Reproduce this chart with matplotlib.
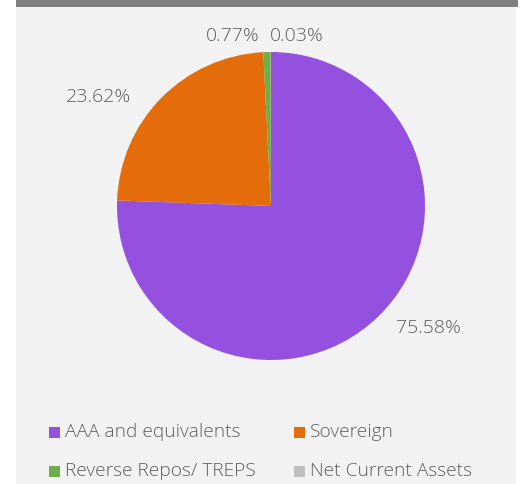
import matplotlib
matplotlib.use("Agg")
import matplotlib.pyplot as plt
from matplotlib.patches import Rectangle

categories = ["AAA and equivalents", "Sovereign", "Reverse Repos/ TREPS", "Net Current Assets"]
values = [75.58, 23.62, 0.77, 0.03]
colors = ["#9450DF", "#E46C0A", "#6DAE4A", "#BFBFBF"]
label_texts = ["75.58%", "23.62%", "0.77%", "0.03%"]
# label positions (axes data units, radius = 1)
label_pos = [(1.025, -0.79), (-1.12, 0.71), (-0.25, 1.105), (0.17, 1.105)]

W, H = 522, 484
fig = plt.figure(figsize=(W / 100, H / 100), dpi=100)
fig.patch.set_facecolor("white")

# panel background
fig.patches.append(Rectangle((16 / W, 0), (516 - 16) / W, 1, transform=fig.transFigure,
                             facecolor="#F2F2F2", edgecolor="none", zorder=-3))
# top dark bar
fig.patches.append(Rectangle((16 / W, 1 - 7 / H), (518 - 16) / W, 7 / H, transform=fig.transFigure,
                             facecolor="#808080", edgecolor="none", zorder=-2))

font = dict(family=["Open Sans", "DejaVu Sans"], weight="light")
txt_color = "#5E5E5E"

cx, cy, r = 271, 206, 154
ax = fig.add_axes([(cx - r) / W, 1 - (cy + r) / H, 2 * r / W, 2 * r / H])
ax.set_facecolor("none")
wedges, _ = ax.pie(values, colors=colors, startangle=90, counterclock=False,
                   radius=1, wedgeprops=dict(linewidth=0))
ax.set_xlim(-1, 1)
ax.set_ylim(-1, 1)
ax.set_aspect("equal")
ax.axis("off")

for t, (x, y) in zip(label_texts, label_pos):
    ax.text(x, y, t, ha="center", va="center", fontsize=14, color=txt_color,
            clip_on=False, **font)

# legend
col_x = [49, 294]
row_y = [432, 471]
sq = 11
for i, (cat, c) in enumerate(zip(categories, colors)):
    x = col_x[i % 2]
    y = row_y[i // 2]
    fig.patches.append(Rectangle((x / W, 1 - (y + sq / 2) / H), sq / W, sq / H,
                                 transform=fig.transFigure, facecolor=c, edgecolor="none", zorder=2))
    fig.text((x + 16) / W, 1 - y / H, cat, ha="left", va="center", fontsize=13.8,
             color=txt_color, **font)

fig.savefig("out.png", dpi=100, facecolor=fig.get_facecolor())
